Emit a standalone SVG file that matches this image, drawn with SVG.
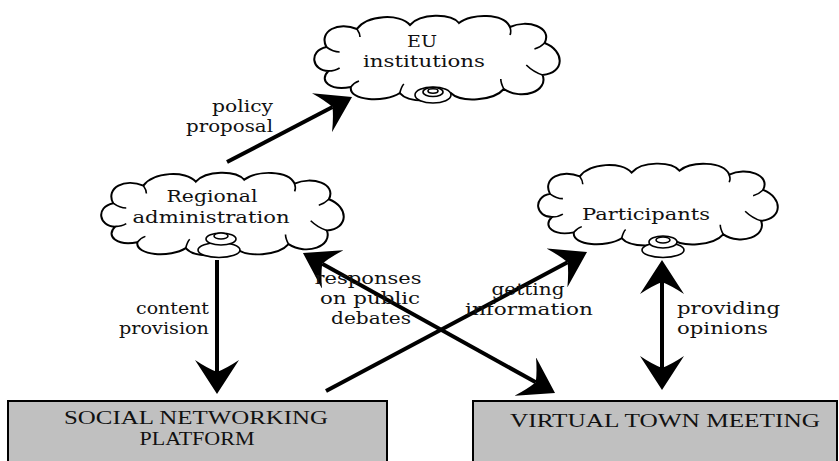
<svg xmlns="http://www.w3.org/2000/svg" xmlns:xlink="http://www.w3.org/1999/xlink" width="839" height="461" viewBox="0 0 839 461">
<style>
.cloud{fill:#fff;stroke:#000;stroke-width:2}
.curl{fill:none;stroke:#000;stroke-width:1.6}
.icon{fill:#fff;stroke:#000;stroke-width:1.6}
.box{fill:#c0c0c0;stroke:#000;stroke-width:2}
.lbl{font-family:"DejaVu Serif","Liberation Serif",serif;font-size:17px;fill:#111}
.btxt{font-family:"Liberation Serif","DejaVu Serif",serif;font-size:19px;fill:#111}
.conn{fill:none;stroke:#000;stroke-width:4}
</style>
<defs>
<marker id="ah" viewBox="0 0 34 44" refX="12" refY="22" markerWidth="34" markerHeight="44" markerUnits="userSpaceOnUse" orient="auto-start-reverse">
<path d="M34,22 L0,0 Q8,12 12,22 Q8,32 0,44 Z" fill="#000"/>
</marker>
<g id="cloudshape">
<path class="cloud" d="M20,58 C4,58 0,38 18,34 C10,18 30,8 48,16 C58,2 90,0 100,12 C110,0 140,0 148,10 C160,0 192,0 198,14 C215,6 240,14 232,30 C252,38 252,60 230,62 C236,78 210,88 192,76 C182,88 150,90 140,80 C128,90 98,90 90,80 C75,90 40,88 42,74 C22,78 10,68 20,58 Z"/>
<path class="curl" d="M18,34 C22,37 26,39 31,39"/>
<path class="curl" d="M48,16 C50,19 51,21 51,24"/>
<path class="curl" d="M198,14 C199,17 199,20 198,22"/>
<path class="curl" d="M232,30 C229,33 226,35 222,36"/>
<path class="curl" d="M230,62 C224,60 218,56 214,52"/>
<path class="curl" d="M192,76 C190,72 189,69 189,66"/>
<path class="curl" d="M90,80 C91,76 92,73 94,71"/>
<path class="curl" d="M42,74 C44,71 47,69 50,68"/>
<path class="curl" d="M20,58 C24,58 28,57 31,55"/>
</g>
</defs>

<g id="connectors">
<line class="conn" x1="227" y1="162" x2="332.5" y2="107.1" marker-end="url(#ah)"/>
<line class="conn" x1="217" y1="260" x2="217" y2="372" marker-end="url(#ah)"/>
<line class="conn" x1="662" y1="282" x2="662" y2="368" marker-start="url(#ah)" marker-end="url(#ah)"/>
<line class="conn" x1="326" y1="391" x2="567.6" y2="262.3" marker-end="url(#ah)"/>
<line class="conn" x1="322.2" y1="263.7" x2="535.8" y2="382.3" marker-start="url(#ah)" marker-end="url(#ah)"/>
</g>

<g id="eu-institutions">
<use xlink:href="#cloudshape" href="#cloudshape" transform="translate(308,13) scale(1.02,1)"/>
<ellipse class="icon" cx="433" cy="95" rx="18" ry="8"/>
<ellipse class="icon" cx="433" cy="92" rx="10" ry="4.5"/>
<ellipse class="icon" cx="433" cy="91" rx="5" ry="2.2"/>
<text class="lbl" x="422" y="47" text-anchor="middle" textLength="30" lengthAdjust="spacingAndGlyphs">EU</text>
<text class="lbl" x="424" y="67" text-anchor="middle" textLength="122" lengthAdjust="spacingAndGlyphs">institutions</text>
</g>

<g id="regional-administration">
<use xlink:href="#cloudshape" href="#cloudshape" transform="translate(95,170) scale(1.008,0.976)"/>
<ellipse class="icon" cx="219" cy="250" rx="21" ry="7.5"/>
<ellipse class="icon" cx="221" cy="239" rx="15" ry="6"/>
<ellipse class="icon" cx="221" cy="236" rx="7" ry="3"/>
<text class="lbl" x="212" y="202" text-anchor="middle" textLength="91" lengthAdjust="spacingAndGlyphs">Regional</text>
<text class="lbl" x="211" y="223" text-anchor="middle" textLength="157" lengthAdjust="spacingAndGlyphs">administration</text>
</g>

<g id="participants">
<use xlink:href="#cloudshape" href="#cloudshape" transform="translate(532,161) scale(0.996,0.965)"/>
<ellipse class="icon" cx="663" cy="250" rx="21" ry="7.5"/>
<ellipse class="icon" cx="663" cy="242" rx="14" ry="6"/>
<ellipse class="icon" cx="663" cy="240" rx="7" ry="3"/>
<text class="lbl" x="646" y="220" text-anchor="middle" textLength="128" lengthAdjust="spacingAndGlyphs">Participants</text>
</g>

<g id="social-networking-platform">
<rect class="box" x="8" y="401" width="379" height="70"/>
<text class="btxt" x="196" y="424" text-anchor="middle" textLength="264" lengthAdjust="spacingAndGlyphs">SOCIAL NETWORKING</text>
<text class="btxt" x="197" y="445" text-anchor="middle" textLength="115" lengthAdjust="spacingAndGlyphs">PLATFORM</text>
</g>

<g id="virtual-town-meeting">
<rect class="box" x="473" y="401" width="364" height="70"/>
<text class="btxt" x="665" y="427" text-anchor="middle" textLength="310" lengthAdjust="spacingAndGlyphs">VIRTUAL TOWN MEETING</text>
</g>

<g id="labels">
<text class="lbl" x="273" y="112" text-anchor="end" textLength="61" lengthAdjust="spacingAndGlyphs">policy</text>
<text class="lbl" x="273" y="132" text-anchor="end" textLength="87" lengthAdjust="spacingAndGlyphs">proposal</text>
<text class="lbl" x="209" y="314" text-anchor="end" textLength="73" lengthAdjust="spacingAndGlyphs">content</text>
<text class="lbl" x="209" y="334" text-anchor="end" textLength="90" lengthAdjust="spacingAndGlyphs">provision</text>
<text class="lbl" x="368" y="284" text-anchor="middle" textLength="107" lengthAdjust="spacingAndGlyphs">responses</text>
<text class="lbl" x="370" y="304" text-anchor="middle" textLength="100" lengthAdjust="spacingAndGlyphs">on public</text>
<text class="lbl" x="371" y="324" text-anchor="middle" textLength="80" lengthAdjust="spacingAndGlyphs">debates</text>
<text class="lbl" x="528" y="295" text-anchor="middle" textLength="73" lengthAdjust="spacingAndGlyphs">getting</text>
<text class="lbl" x="529" y="315" text-anchor="middle" textLength="128" lengthAdjust="spacingAndGlyphs">information</text>
<text class="lbl" x="677" y="314" textLength="103" lengthAdjust="spacingAndGlyphs">providing</text>
<text class="lbl" x="677" y="334" textLength="91" lengthAdjust="spacingAndGlyphs">opinions</text>
</g>
</svg>
